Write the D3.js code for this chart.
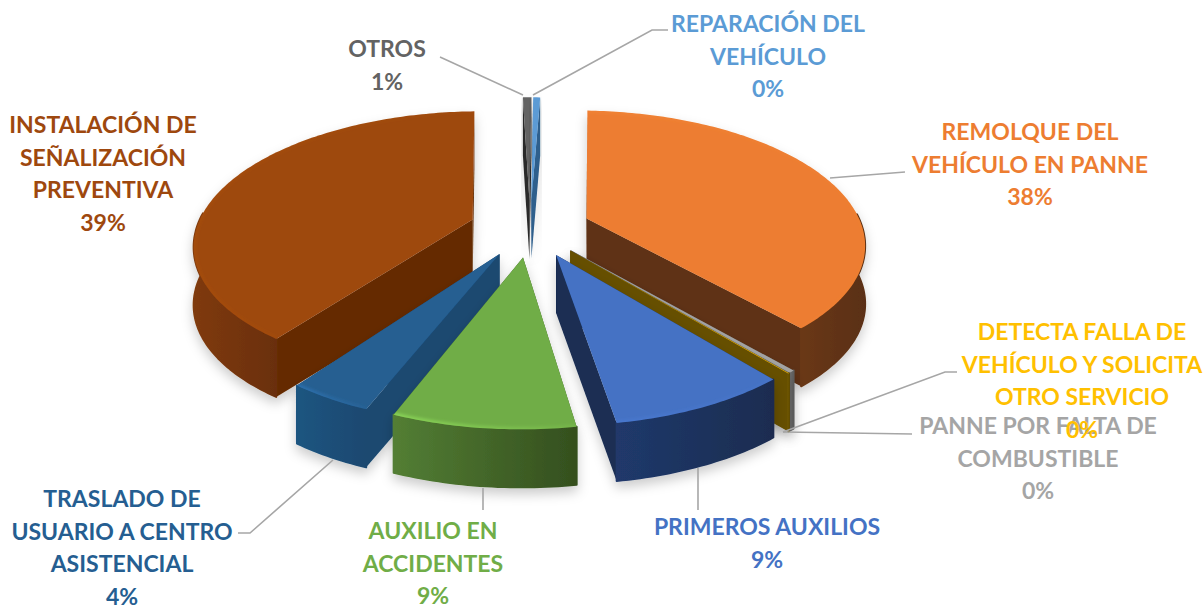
<!DOCTYPE html>
<html><head><meta charset="utf-8">
<script src="https://cdn.jsdelivr.net/npm/d3@7"></script>
<style>html,body{margin:0;background:#fff}svg{display:block}text{font-family:Lato,'Open Sans',sans-serif;font-weight:700;font-size:23px;text-anchor:middle}</style>
</head><body><svg id="c" width="1203" height="605"></svg>
<script>
const categories=[["REPARACIÓN DEL","VEHÍCULO"],["REMOLQUE DEL","VEHÍCULO EN PANNE"],["PANNE POR FALTA DE","COMBUSTIBLE"],["DETECTA FALLA DE","VEHÍCULO Y SOLICITA","OTRO SERVICIO"],["PRIMEROS AUXILIOS"],["AUXILIO EN","ACCIDENTES"],["TRASLADO DE","USUARIO A CENTRO","ASISTENCIAL"],["INSTALACIÓN DE","SEÑALIZACIÓN","PREVENTIVA"],["OTROS"]];
const values=[0.49,37.9,0.3,0.05,8.55,8.55,4,39.45,0.6];
const colors=["#5B9BD5","#ED7D31","#A5A5A5","#FFC000","#4472C4","#70AD47","#255E91","#9E480E","#636363"];
const cutWall=["#2f5f8c","#5f3213","#636363","#664f00","#1a2d52","#3a5a24","#1a4870","#652c06","#2b2b2b"];
const wallL=["#3b6a96","#6a3816","#6f6f6f","#6e5500","#20396b","#537e34","#1c5580","#7f3a0a","#333"];
const wallR=["#2f5f8c","#5a2f12","#5f5f5f","#5f4a00","#1a2c50","#344f1e","#1a4870","#6a2f07","#222"];
const bevel=[0,.15,0,0,.2,.9,.8,.15,0];
const explosion=[.22,.22,.22,.22,.22,.22,.22,.22,.22];
const drawOrder=[8,0,7,1,2,3,6,4,5];
const labelCx=[768,1030,1038,1082,767,433,122,103,387];
const labelY=[24,132,426,332,527,531,499,125,49];
const leaders=[[[533,95],[652,30],[668,30]],[[830,178],[905,172]],[[783,432],[912,434]],[[783,432],[945,372],[957,372]],[[698,468],[698,510]],[[483,488],[483,510]],[[333,460],[250,533],[238,533]],[[],[]],[[523,95],[440,57]]];

const CX=530,CY=228,R=276,RY=130,K=.175,H=58;
const x=d3.scaleLinear().domain([-1,1]).range([CX-R,CX+R]);
const y=d3.scaleLinear().domain([-1,1]).range([CY+RY,CY-RY]);
const persp=v=>1/(1+K*v);
const proj=(u,v,z)=>{const p=persp(v);return [CX+(x(u)-CX)*p,CY+(y(v)-CY)*p+z*H];};
const pieGen=d3.pie().sort(null).value(d=>d).startAngle(0.5*Math.PI/180).endAngle(2*Math.PI+0.5*Math.PI/180);
const arcs=pieGen(values);
const line=d3.line();
const svg=d3.select("#c");
const defs=svg.append("defs");
defs.append("filter").attr("id","blur").attr("x","-20%").attr("y","-20%").attr("width","140%").attr("height","140%").append("feGaussianBlur").attr("stdDeviation",1.6);
const fs=defs.append("filter").attr("id","shadow").attr("x","-20%").attr("y","-20%").attr("width","140%").attr("height","140%");
fs.append("feDropShadow").attr("dx",0).attr("dy",6).attr("stdDeviation",6).attr("flood-color","#000").attr("flood-opacity",.2);

function slice(i){
  const a=arcs[i],mid=(a.startAngle+a.endAngle)/2,e=explosion[i];
  const ox=e*Math.sin(mid),oy=e*Math.cos(mid);
  const n=Math.max(2,Math.ceil((a.endAngle-a.startAngle)*180/Math.PI));
  const th=d3.range(n+1).map(k=>a.startAngle+(a.endAngle-a.startAngle)*k/n);
  const pt=(t,z)=>proj(ox+Math.sin(t),oy+Math.cos(t),z);
  const apex=z=>proj(ox,oy,z);
  const g=svg.append("g").attr("filter","url(#shadow)");
  const cuts=[a.startAngle,a.endAngle].map(t=>({t,d:[apex(0),pt(t,0),pt(t,1),apex(1)]}));
  cuts.sort((p,q)=>Math.cos(q.t)-Math.cos(p.t)).forEach(c=>{
    g.append("path").attr("d",line(c.d)+"Z").attr("fill",cutWall[i]);
  });
  const front=th.filter(t=>Math.cos(t)<.05);
  if(front.length>1){
    const outerPts=front.map(t=>pt(t,0)).concat(front.slice().reverse().map(t=>pt(t,1)));
    const xs=outerPts.map(p=>p[0]);
    const gid="wg"+i;
    const lg=defs.append("linearGradient").attr("id",gid).attr("gradientUnits","userSpaceOnUse")
      .attr("x1",d3.min(xs)).attr("x2",d3.max(xs)).attr("y1",0).attr("y2",0);
    lg.append("stop").attr("offset",0).attr("stop-color",wallL[i]);
    lg.append("stop").attr("offset",1).attr("stop-color",wallR[i]);
    g.append("path").attr("d",line(outerPts)+"Z").attr("fill","url(#"+gid+")").attr("stroke","url(#"+gid+")").attr("stroke-width",2).attr("stroke-linejoin","round");
  }
  const top=[apex(0)].concat(th.map(t=>pt(t,0)));
  g.append("path").attr("d",line(top)+"Z").attr("fill",colors[i]);
  if(bevel[i]>0){
    const rim=th.map(t=>pt(t,0));
    const bev=defs.append("clipPath").attr("id","tc"+i);
    bev.append("path").attr("d",line(top)+"Z");
    const hl=d3.color(colors[i]).brighter(.6);
    const rx=rim.map(p=>p[0]);
    const bg=defs.append("linearGradient").attr("id","bg"+i).attr("gradientUnits","userSpaceOnUse")
      .attr("x1",d3.min(rx)).attr("x2",d3.max(rx)).attr("y1",0).attr("y2",0);
    bg.append("stop").attr("offset",0).attr("stop-color",hl).attr("stop-opacity",bevel[i]);
    bg.append("stop").attr("offset",1).attr("stop-color",hl).attr("stop-opacity",bevel[i]*.2);
    svg.append("g").attr("clip-path","url(#tc"+i+")").append("path")
      .attr("d",line(rim)).attr("fill","none").attr("stroke","url(#bg"+i+")").attr("stroke-width",5).attr("filter","url(#blur)");
  }
}
drawOrder.forEach(slice);

svg.append("g").selectAll("path").data(leaders.filter(l=>l[0].length)).join("path")
  .attr("d",d=>line(d)).attr("fill","none").attr("stroke","#a6a6a6").attr("stroke-width",1.6);

const total=d3.sum(values);
const pct=d3.format(".0%");
const LH=32.6;
const lab=svg.append("g");
categories.forEach((c,i)=>{
  const lines=c.concat(pct(values[i]/total));
  lines.forEach((t,k)=>lab.append("text").attr("x",labelCx[i]).attr("y",labelY[i]+k*LH+8).attr("fill",colors[i]).text(t));
});
</script></body></html>
